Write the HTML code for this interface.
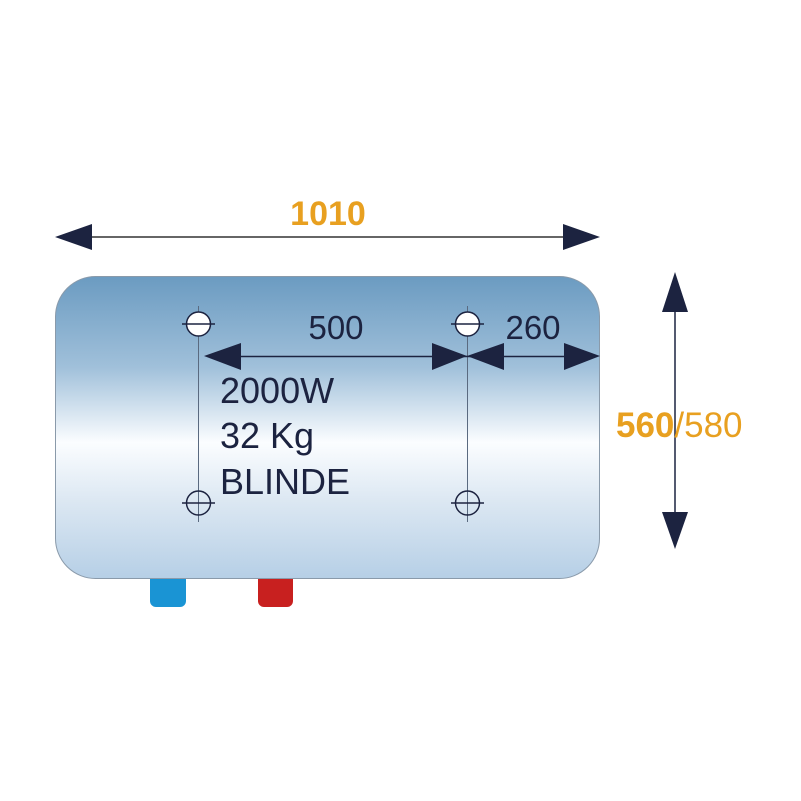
<!DOCTYPE html>
<html><head><style>html,body{margin:0;padding:0;background:#fff}svg{display:block}</style></head>
<body>
<svg width="801" height="801" viewBox="0 0 801 801" xmlns="http://www.w3.org/2000/svg">
<defs>
<linearGradient id="g" x1="0" y1="0" x2="0" y2="1">
<stop offset="0" stop-color="#6b9bc1"/>
<stop offset="0.3" stop-color="#a0c0da"/>
<stop offset="0.55" stop-color="#fbfdff"/>
<stop offset="0.75" stop-color="#dbe7f2"/>
<stop offset="1" stop-color="#b6cfe6"/>
</linearGradient>
</defs>
<rect x="150" y="570" width="36" height="37" rx="6" fill="#1a94d4"/>
<rect x="258" y="570" width="35" height="37" rx="6" fill="#c8201f"/>
<rect x="55.5" y="276.5" width="544" height="302" rx="40" fill="url(#g)" stroke="#8a9aaa" stroke-width="1"/>
<line x1="90" y1="237" x2="566" y2="237" stroke="#666" stroke-width="2"/>
<polygon points="55,237 92,224 92,250" fill="#1c2340"/>
<polygon points="600,237 563,224 563,250" fill="#1c2340"/>
<text x="328" y="225" font-family="Liberation Sans, sans-serif" font-weight="bold" font-size="34" fill="#e8a020" text-anchor="middle">1010</text>
<line x1="198.5" y1="306" x2="198.5" y2="522" stroke="#5a6a80" stroke-width="1"/>
<line x1="467.5" y1="306" x2="467.5" y2="522" stroke="#5a6a80" stroke-width="1"/>
<g stroke="#1c2340" stroke-width="1.5">
<circle cx="198.5" cy="324" r="12" fill="#fff"/>
<circle cx="467.5" cy="324" r="12" fill="#fff"/>
<circle cx="198.5" cy="503" r="12" fill="none"/>
<circle cx="467.5" cy="503" r="12" fill="none"/>
<line x1="182" y1="324" x2="215" y2="324"/>
<line x1="451" y1="324" x2="484" y2="324"/>
<line x1="182" y1="503" x2="215" y2="503"/>
<line x1="451" y1="503" x2="484" y2="503"/>
</g>
<line x1="235" y1="356.5" x2="570" y2="356.5" stroke="#1c2340" stroke-width="1.5"/>
<polygon points="204,356 241,343 241,370" fill="#1c2340"/>
<polygon points="467,356 432,343 432,370" fill="#1c2340"/>
<polygon points="467,356 504,343 504,370" fill="#1c2340"/>
<polygon points="600,356 564,343 564,370" fill="#1c2340"/>
<g font-family="Liberation Sans, sans-serif" fill="#1c2340">
<text x="336" y="339" font-size="33" text-anchor="middle">500</text>
<text x="533" y="339" font-size="33" text-anchor="middle">260</text>
<text x="220" y="403" font-size="36">2000W</text>
<text x="220" y="448" font-size="36">32 Kg</text>
<text x="220" y="494" font-size="36">BLINDE</text>
</g>
<line x1="675" y1="305" x2="675" y2="518" stroke="#1c2340" stroke-width="1.5"/>
<polygon points="675,272 662,312 688,312" fill="#1c2340"/>
<polygon points="675,549 662,512 688,512" fill="#1c2340"/>
<text x="616" y="437" font-family="Liberation Sans, sans-serif" font-size="35" fill="#e8a020"><tspan font-weight="bold">560</tspan>/580</text>
</svg>
</body></html>
